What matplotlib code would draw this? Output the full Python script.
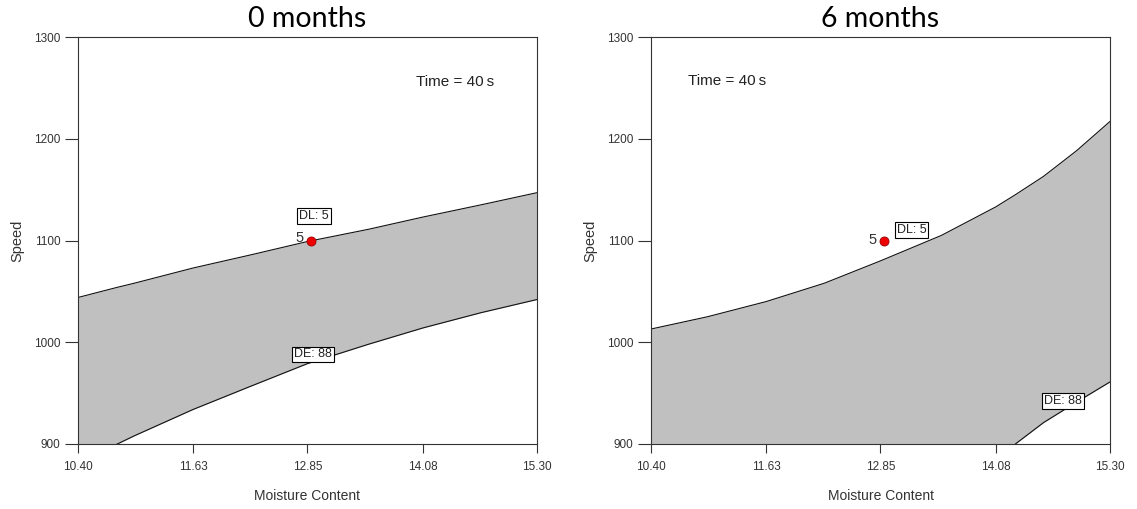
import matplotlib
matplotlib.use("Agg")
import matplotlib.pyplot as plt
import numpy as np

# ---- data ----
x_ticks = [10.40, 11.63, 12.85, 14.08, 15.30]
y_ticks = [900, 1000, 1100, 1200, 1300]
titles = ["0 months", "6 months"]

# 0 months
x0 = [10.40, 10.82, 11.0, 11.63, 12.25, 12.85, 13.5, 14.08, 14.7, 15.30]
upper0 = [1044, 1054, 1058, 1073, 1086, 1099, 1111, 1123, 1135, 1147]
lower0 = [883, 900, 908, 934, 957, 979, 998, 1014, 1029, 1042]

# 6 months
x6 = [10.40, 11.0, 11.63, 12.25, 12.85, 13.5, 14.08, 14.29, 14.59, 14.94, 15.30]
upper6 = [1013, 1025, 1040, 1058, 1080, 1105, 1133, 1145, 1163, 1188, 1217]
lower6 = [850, 855, 860, 865, 870, 875, 885, 900, 921, 941, 961]

point = (12.89, 1100)
dl_label_pos = [(12.92, 1124), (13.18, 1110)]
de_label_pos = [(12.91, 988), (14.80, 942)]
five_pos = [(12.77, 1102), (12.77, 1100)]
time_pos = [(14.43, 1256), (11.21, 1257)]

W, H = 1137, 509
fig = plt.figure(figsize=(W / 100, H / 100), dpi=100)
plt.rcParams['font.family'] = ['Liberation Sans', 'DejaVu Sans']

axes_px = [(78, 37, 537, 444), (651, 37, 1110, 444)]
datasets = [(x0, upper0, lower0), (x6, upper6, lower6)]

for i, ((l, t, r, b), (xs, up, lo)) in enumerate(zip(axes_px, datasets)):
    ax = fig.add_axes([l / W, 1 - b / H, (r - l) / W, (b - t) / H])
    ax.fill_between(xs, lo, up, color='#c0c0c0', lw=0, zorder=1)
    ax.plot(xs, up, color='#111111', lw=0.8, zorder=2)
    ax.plot(xs, lo, color='#111111', lw=0.8, zorder=2)
    ax.set_xlim(10.40, 15.30)
    ax.set_ylim(900, 1300)
    ax.set_xticks(x_ticks)
    ax.set_xticklabels([f"{v:.2f}" for v in x_ticks])
    ax.set_yticks(y_ticks)
    ax.tick_params(axis='x', direction='out', length=6.5, width=0.8,
                   pad=6, labelsize=8.5, colors='#333333')
    ax.tick_params(axis='y', direction='out', length=9.5, width=0.8,
                   pad=3, labelsize=8.5, colors='#333333')
    for s in ax.spines.values():
        s.set_linewidth(0.8)
        s.set_color('#333333')
    ax.set_xlabel("Moisture Content", fontsize=10, color='#333333', labelpad=11)
    ax.set_ylabel("Speed", fontsize=10.5, color='#333333', labelpad=7)
    ax.set_title(titles[i], fontsize=20.5, family=['Lato', 'DejaVu Sans'],
                 pad=7, color='black')

    ax.plot([point[0]], [point[1]], 'o', ms=6.5, mfc='#ee0000',
            mec='#990000', mew=0.6, zorder=5)
    ax.text(five_pos[i][0], five_pos[i][1], "5", fontsize=10.5, color='#333333',
            ha='center', va='center', zorder=6)
    bbox = dict(boxstyle='square,pad=0.15', fc='white', ec='black', lw=0.8)
    ax.text(dl_label_pos[i][0], dl_label_pos[i][1], "DL: 5", fontsize=9,
            ha='center', va='center', bbox=bbox, zorder=6, color='#222222')
    ax.text(de_label_pos[i][0], de_label_pos[i][1], "DE: 88", fontsize=9,
            ha='center', va='center', bbox=bbox, zorder=6, color='#222222')
    ax.text(time_pos[i][0], time_pos[i][1], "Time = 40\u2009s", fontsize=11,
            ha='center', va='center', color='#222222')

fig.savefig("out.png", dpi=100)
